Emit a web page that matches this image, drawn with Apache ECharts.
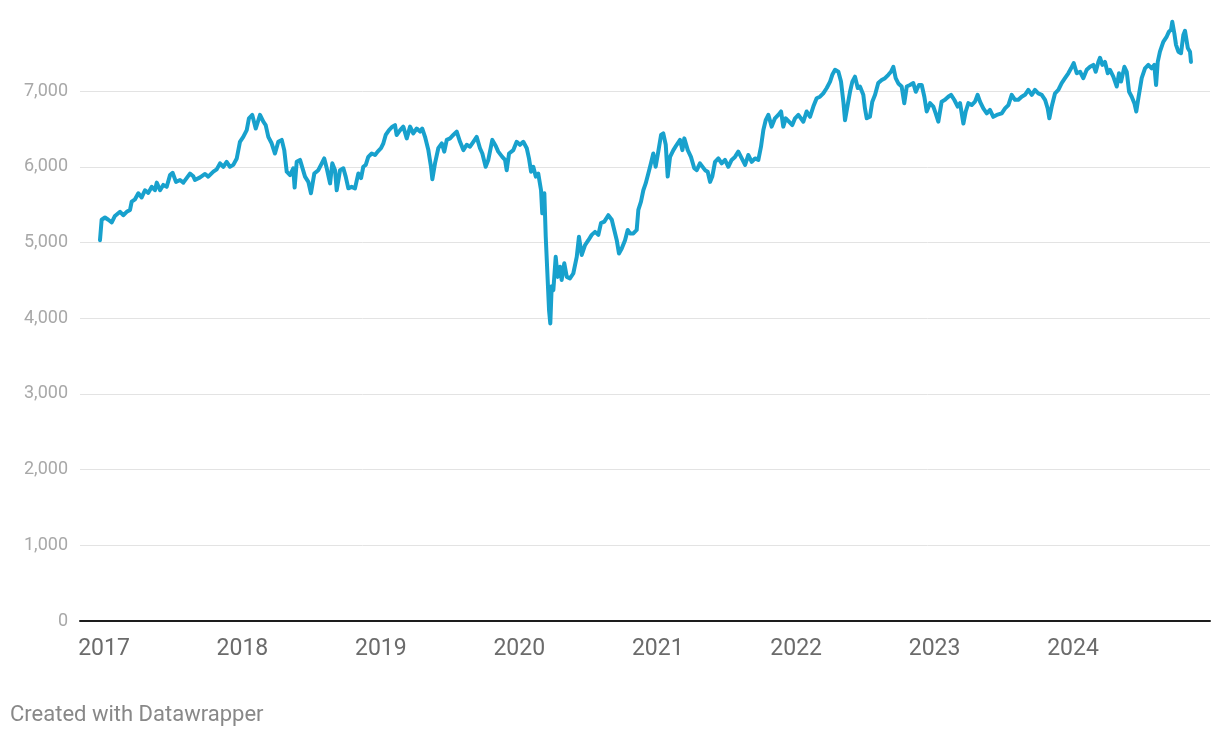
<!DOCTYPE html>
<html>
<head>
<meta charset="utf-8">
<script src="https://cdn.jsdelivr.net/npm/echarts@6/dist/echarts.min.js"></script>
<style>
  html, body { margin: 0; padding: 0; background: #ffffff; }
  #chart { width: 1220px; height: 738px; }
</style>
</head>
<body>
<div id="chart"></div>
<script>
// Time expressed as decimal years
const years = [
  2016.971,2016.983,2017.007,2017.031,2017.056,2017.079,2017.116,2017.139,2017.164,2017.188,
  2017.200,2017.224,2017.248,2017.272,2017.296,2017.320,2017.345,2017.368,2017.381,2017.405,
  2017.428,2017.453,2017.477,2017.496,2017.520,2017.549,2017.573,2017.597,2017.621,2017.645,
  2017.657,2017.694,2017.730,2017.753,2017.790,2017.814,2017.838,2017.862,2017.886,2017.910,
  2017.934,2017.959,2017.982,2018.006,2018.031,2018.047,2018.071,2018.096,2018.127,2018.151,
  2018.168,2018.187,2018.211,2018.235,2018.259,2018.284,2018.302,2018.320,2018.344,2018.367,
  2018.377,2018.392,2018.416,2018.428,
  2018.452,2018.476,2018.495,2018.519,2018.548,2018.573,2018.591,2018.609,2018.633,2018.649,
  2018.669,2018.681,2018.705,2018.729,2018.746,2018.765,2018.789,2018.813,2018.837,2018.857,
  2018.873,2018.891,2018.909,2018.934,2018.958,2018.977,2019.001,2019.018,2019.035,2019.059,
  2019.083,2019.102,2019.114,2019.138,
  2019.162,2019.187,2019.211,2019.234,2019.259,2019.283,2019.299,2019.319,2019.343,2019.362,
  2019.372,2019.391,2019.415,2019.440,2019.458,2019.476,2019.500,2019.523,2019.548,2019.572,
  2019.596,2019.620,2019.644,2019.668,2019.692,2019.716,2019.733,2019.757,2019.776,2019.805,
  2019.830,
  2019.848,2019.877,2019.897,2019.909,2019.926,2019.957,2019.981,2020.005,2020.029,2020.054,
  2020.070,2020.085,2020.101,2020.119,2020.137,2020.157,2020.166,2020.181,2020.191,2020.205,
  2020.215,2020.224,2020.234,2020.246,2020.263,2020.277,2020.294,2020.306,2020.325,2020.343,
  2020.366,2020.390,2020.415,2020.431,2020.451,2020.475,2020.499,2020.523,2020.547,
  2020.571,2020.590,2020.614,2020.643,2020.668,2020.686,2020.704,2020.720,2020.740,2020.764,
  2020.783,2020.800,2020.824,2020.848,2020.860,2020.879,2020.896,2020.913,2020.932,2020.951,
  2020.968,2020.985,2021.004,2021.024,2021.040,2021.058,2021.072,2021.089,2021.113,2021.137,
  2021.161,2021.178,2021.192,2021.217,2021.240,2021.264,2021.282,2021.305,
  2021.342,2021.361,2021.378,2021.394,2021.414,2021.438,2021.462,2021.486,2021.510,2021.534,
  2021.558,2021.582,2021.607,2021.631,2021.654,2021.679,2021.703,2021.727,2021.746,2021.763,
  2021.780,2021.799,2021.823,2021.847,2021.871,2021.891,2021.907,2021.925,2021.948,2021.972,
  2021.992,2022.016,
  2022.028,2022.052,2022.076,2022.100,2022.124,2022.148,2022.172,2022.196,2022.221,2022.245,
  2022.261,2022.281,2022.305,2022.324,2022.341,2022.353,2022.372,2022.389,2022.406,2022.425,
  2022.445,2022.461,2022.485,2022.497,2022.510,2022.533,2022.550,2022.570,2022.593,2022.618,
  2022.642,2022.666,2022.685,2022.702,2022.719,2022.738,
  2022.762,2022.781,2022.799,2022.822,2022.846,2022.864,2022.887,2022.907,2022.926,2022.943,
  2022.967,2022.991,2023.008,2023.027,2023.051,2023.075,2023.099,2023.119,2023.142,2023.167,
  2023.184,2023.208,2023.225,2023.244,2023.268,2023.292,2023.311,2023.328,2023.352,2023.377,
  2023.400,2023.424,2023.449,
  2023.485,2023.509,2023.533,2023.557,2023.581,2023.605,2023.629,2023.653,2023.677,2023.702,
  2023.725,2023.749,2023.774,2023.798,2023.817,2023.829,2023.846,2023.870,2023.894,2023.918,
  2023.942,2023.966,2023.986,2024.005,2024.027,2024.051,2024.074,2024.099,2024.123,2024.147,
  2024.164,2024.183,2024.195,
  2024.212,2024.231,2024.251,2024.267,2024.291,2024.316,2024.332,2024.347,2024.371,2024.388,
  2024.405,2024.424,2024.443,2024.457,2024.472,2024.496,2024.520,2024.544,2024.568,2024.587,
  2024.600,2024.612,2024.628,2024.652,2024.677,2024.693,2024.708,2024.717,2024.732,2024.744,
  2024.761,2024.780,2024.797,2024.809,2024.829,2024.845,2024.852
];
const values = [
  5030,5300,5330,5300,5265,5350,5405,5360,5405,5430,
  5540,5570,5650,5595,5690,5655,5735,5690,5790,5690,
  5760,5735,5890,5920,5800,5825,5790,5850,5910,5875,
  5825,5860,5905,5870,5935,5965,6045,6000,6065,6000,
  6025,6110,6330,6395,6485,6640,6685,6505,6685,6595,
  6550,6395,6310,6175,6330,6355,6220,5935,5890,5980,
  5725,6065,6090,6110,
  5870,5800,5650,5910,5955,6045,6110,5980,5780,6045,
  5955,5690,5955,5980,5870,5715,5735,5715,5910,5850,
  6000,6025,6130,6175,6155,6200,6245,6310,6420,6485,
  6530,6550,6420,6480,
  6530,6375,6530,6440,6505,6465,6505,6395,6220,6000,
  5835,6045,6245,6310,6200,6355,6375,6420,6465,6330,
  6220,6290,6265,6330,6395,6245,6175,6000,6090,6355,
  6275,
  6200,6130,6090,5955,6175,6220,6330,6290,6330,6245,
  6110,5935,6000,5870,5910,5690,5385,5650,5075,4505,
  4105,3930,4420,4370,4810,4545,4680,4505,4725,4545,
  4525,4590,4810,5075,4835,4965,5030,5100,5140,
  5100,5255,5275,5360,5300,5165,5030,4855,4920,5030,
  5165,5120,5120,5165,5430,5540,5690,5780,5910,6045,
  6175,6000,6200,6420,6440,6290,5870,6130,6220,6290,
  6355,6220,6375,6220,6130,5980,5955,6045,
  5955,5935,5800,5870,6065,6110,6045,6090,6000,6090,
  6130,6200,6110,6025,6155,6065,6110,6090,6265,6485,
  6615,6685,6530,6640,6685,6730,6530,6640,6595,6550,
  6640,6685,
  6705,6595,6730,6660,6795,6905,6925,6970,7040,7125,
  7215,7280,7255,7125,6860,6615,6815,6990,7125,7190,
  7040,7060,6950,6770,6640,6660,6860,6950,7105,7145,
  7170,7215,7255,7320,7170,7100,
  7060,6840,7060,7080,7105,6990,7080,7080,6925,6730,
  6840,6795,6705,6595,6860,6885,6925,6950,6885,6795,
  6840,6570,6730,6840,6815,6860,6950,6860,6770,6705,
  6750,6660,6685,
  6705,6770,6815,6950,6885,6885,6925,6950,7015,6950,
  7015,6970,6950,6885,6770,6640,6795,6970,7015,7105,
  7170,7235,7300,7370,7235,7255,7170,7280,7320,7345,
  7255,7385,7440,
  7345,7385,7235,7280,7190,7060,7235,7125,7320,7255,
  6990,6925,6840,6730,6905,7170,7300,7345,7300,7345,
  7080,7385,7520,7650,7720,7785,7810,7915,7760,7610,
  7520,7500,7740,7795,7570,7520,7385
];
const yearTicks = [2017, 2018, 2019, 2020, 2021, 2022, 2023, 2024];
const yTicks = [0, 1000, 2000, 3000, 4000, 5000, 6000, 7000];

const seriesData = years.map((y, i) => [y, values[i]]);

const chart = echarts.init(document.getElementById('chart'), null, { renderer: 'canvas' });
chart.setOption({
  animation: false,
  backgroundColor: '#ffffff',
  textStyle: { fontFamily: 'Roboto, sans-serif' },
  grid: { left: 80, right: 10, top: 16.1, bottom: 117, containLabel: false },
  graphic: [{
    type: 'text',
    left: 10,
    top: 704,
    style: { text: 'Created with Datawrapper', fill: '#888888', fontSize: 22, fontFamily: 'Roboto, sans-serif' }
  }],
  xAxis: {
    type: 'value',
    min: 2016.8266,
    max: 2024.9895,
    axisLine: { show: true, onZero: true, lineStyle: { color: '#1d1d1d', width: 2 } },
    axisTick: { show: false },
    splitLine: { show: false },
    axisLabel: {
      customValues: yearTicks,
      formatter: v => String(Math.round(v)),
      color: '#6b6b6b',
      fontSize: 23,
      margin: 17,
      fontFamily: 'Roboto, sans-serif'
    }
  },
  yAxis: {
    type: 'value',
    min: 0,
    max: 7990,
    interval: 1000,
    axisLine: { show: false },
    axisTick: { show: false },
    splitLine: { show: true, showMaxLine: false, lineStyle: { color: '#e3e3e3', width: 1 } },
    axisLabel: {
      customValues: yTicks,
      formatter: v => v.toLocaleString('en-US'),
      color: '#a8a8a8',
      fontSize: 18,
      margin: 12,
      fontFamily: 'Roboto, sans-serif'
    }
  },
  series: [{
    type: 'line',
    data: seriesData,
    showSymbol: false,
    symbol: 'none',
    lineStyle: { color: '#18a1cd', width: 4, join: 'round', cap: 'round' },
    z: 5
  }]
});
</script>
</body>
</html>
